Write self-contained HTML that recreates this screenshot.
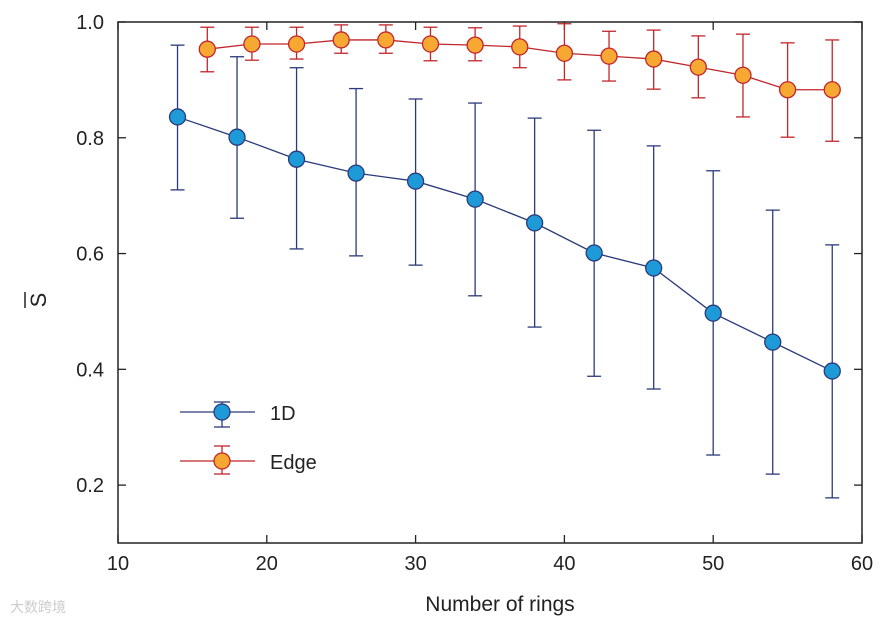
<!DOCTYPE html>
<html><head><meta charset="utf-8"><style>
body{margin:0;background:#fff;}
svg text{font-family:"Liberation Sans",sans-serif;}
</style></head><body>
<svg id="chart" width="893" height="622" xmlns="http://www.w3.org/2000/svg">
<rect x="118" y="22" width="744" height="521" fill="none" stroke="#222" stroke-width="1.5"/>
<g id="axes"></g>
<g id="series"></g>
<text x="500" y="611" font-size="21" text-anchor="middle" fill="#222">Number of rings</text>
<text x="46" y="300" font-size="22" text-anchor="middle" fill="#222" transform="rotate(-90 46 300)">S</text>
<line x1="25" y1="292" x2="25" y2="308" stroke="#222" stroke-width="1.5"/>
<g>
<g>
<line x1="180" y1="412" x2="255" y2="412" stroke="#2b3a7a" stroke-width="1.3"/>
<line x1="222" y1="402" x2="222" y2="427" stroke="#2b3a7a" stroke-width="1.3"/>
<line x1="214" y1="402" x2="230" y2="402" stroke="#2b3a7a" stroke-width="1.3"/>
<line x1="214" y1="427" x2="230" y2="427" stroke="#2b3a7a" stroke-width="1.3"/>
<circle cx="222" cy="412" r="8" fill="#1e9ad9" stroke="#2b3a7a" stroke-width="1.3"/>
<text x="270" y="420" font-size="20" fill="#222">1D</text></g>
<g>
<line x1="180" y1="461" x2="255" y2="461" stroke="#c0262b" stroke-width="1.3"/>
<line x1="222" y1="446" x2="222" y2="474" stroke="#c0262b" stroke-width="1.3"/>
<line x1="214" y1="446" x2="230" y2="446" stroke="#c0262b" stroke-width="1.3"/>
<line x1="214" y1="474" x2="230" y2="474" stroke="#c0262b" stroke-width="1.3"/>
<circle cx="222" cy="461" r="8" fill="#f7a833" stroke="#c0262b" stroke-width="1.3"/>
<text x="270" y="469" font-size="20" fill="#222">Edge</text></g>
</g>
<text x="10" y="612" font-size="14" fill="#ccc">大数跨境</text>
</svg>
<script>
const xTicks=[10,20,30,40,50,60];
const yTicks=[0.2,0.4,0.6,0.8,1.0];
const x1D=[14,18,22,26,30,34,38,42,46,50,54,58];
const mean1D=[0.836,0.801,0.763,0.739,0.725,0.694,0.653,0.601,0.575,0.497,0.447,0.397];
const hi1D=[0.96,0.94,0.921,0.885,0.867,0.86,0.834,0.813,0.786,0.743,0.675,0.615];
const lo1D=[0.71,0.661,0.608,0.596,0.58,0.527,0.473,0.388,0.366,0.252,0.219,0.178];
const xEdge=[16,19,22,25,28,31,34,37,40,43,46,49,52,55,58];
const meanEdge=[0.953,0.962,0.962,0.969,0.969,0.962,0.96,0.957,0.946,0.941,0.936,0.922,0.908,0.883,0.883];
const hiEdge=[0.991,0.991,0.991,0.995,0.995,0.991,0.99,0.993,0.997,0.984,0.986,0.976,0.979,0.964,0.969];
const loEdge=[0.914,0.934,0.936,0.946,0.946,0.933,0.933,0.921,0.9,0.898,0.884,0.869,0.836,0.801,0.794];
const X=v=>118+(v-10)*(744/50);
const Y=v=>22+(1.0-v)*(521/0.9);
const NS="http://www.w3.org/2000/svg";
function mk(tag,attrs,parent){const e=document.createElementNS(NS,tag);for(const k in attrs)e.setAttribute(k,attrs[k]);parent.appendChild(e);return e;}
const axes=document.getElementById('axes');
xTicks.forEach(t=>{
  mk('line',{x1:X(t),x2:X(t),y1:543,y2:535,stroke:'#222','stroke-width':1.3},axes);
  mk('line',{x1:X(t),x2:X(t),y1:22,y2:30,stroke:'#222','stroke-width':1.3},axes);
  const tx=mk('text',{x:X(t),y:570,'font-size':20,'text-anchor':'middle',fill:'#222'},axes);
  tx.textContent=t;
  
  
});
yTicks.forEach(t=>{
  mk('line',{x1:118,x2:126,y1:Y(t),y2:Y(t),stroke:'#222','stroke-width':1.3},axes);
  mk('line',{x1:862,x2:854,y1:Y(t),y2:Y(t),stroke:'#222','stroke-width':1.3},axes);
  const tx=mk('text',{x:104,y:Y(t)+7,'font-size':20,'text-anchor':'end',fill:'#222'},axes);
  tx.textContent=t.toFixed(1);
  
  
});
function series(xs,m,hi,lo,line,fill,name){
  const g=mk('g',{},document.getElementById('series'));
  
  
  mk('polyline',{points:xs.map((x,i)=>X(x)+','+Y(m[i])).join(' '),fill:'none',stroke:line,'stroke-width':1.3},g);
  xs.forEach((x,i)=>{
    mk('line',{x1:X(x),x2:X(x),y1:Y(hi[i]),y2:Y(lo[i]),stroke:line,'stroke-width':1.3},g);
    mk('line',{x1:X(x)-7,x2:X(x)+7,y1:Y(hi[i]),y2:Y(hi[i]),stroke:line,'stroke-width':1.3},g);
    mk('line',{x1:X(x)-7,x2:X(x)+7,y1:Y(lo[i]),y2:Y(lo[i]),stroke:line,'stroke-width':1.3},g);
  });
  xs.forEach((x,i)=>{
    const c=mk('circle',{cx:X(x),cy:Y(m[i]),r:8,fill:fill,stroke:line,'stroke-width':1.3},g);
    
    
  });
}
series(x1D,mean1D,hi1D,lo1D,'#2b3a7a','#1e9ad9','series-1d');
series(xEdge,meanEdge,hiEdge,loEdge,'#c0262b','#f7a833','series-edge');
</script>
</body></html>
